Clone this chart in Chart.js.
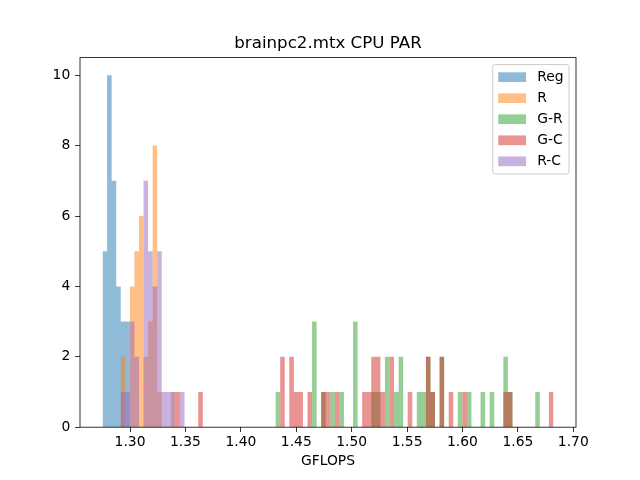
<!DOCTYPE html>
<html>
<head>
<meta charset="utf-8">
<script src="https://cdn.jsdelivr.net/npm/chart.js@4.4.0/dist/chart.umd.min.js"></script>
<style>
  html, body { margin: 0; padding: 0; background: #fff; }
  #wrap { width: 640px; height: 480px; position: relative; }
</style>
</head>
<body>
<div id="wrap"><canvas id="hist"></canvas></div>
<script>
// shared histogram bins (GFLOPS)
const binStart = 1.2752;
const binWidth = 0.00411;
const binCount = 99;

const seriesNames = ['Reg', 'R', 'G-R', 'G-C', 'R-C'];

// non-empty bins (index) and their counts
const regBins   = [0, 1, 2, 3, 4, 5];
const regCounts = [5, 10, 7, 4, 3, 3];

const rBins   = [4, 6, 7, 8, 9, 10, 11, 12, 15];
const rCounts = [2, 4, 5, 6, 2, 3, 8, 1, 1];

const grBins   = [38, 46, 48, 50, 52, 55, 59, 60, 62, 64, 65, 69, 70, 71, 72, 74, 78, 80, 83, 85, 88, 89, 95];
const grCounts = [1, 3, 1, 1, 1, 3, 1, 1, 2, 1, 2, 1, 1, 2, 1, 2, 1, 1, 1, 1, 2, 1, 1];

const gcBins   = [16, 21, 39, 41, 42, 43, 45, 48, 49, 51, 57, 58, 59, 60, 61, 63, 67, 71, 72, 74, 76, 79, 88, 89, 98];
const gcCounts = [1, 1, 2, 2, 1, 1, 1, 1, 1, 1, 1, 1, 2, 2, 1, 2, 1, 2, 1, 2, 1, 1, 1, 1, 1];

const rcBins   = [4, 5, 6, 7, 9, 10, 11, 12, 13, 14, 15, 17];
const rcCounts = [1, 1, 3, 2, 7, 5, 4, 5, 1, 1, 1, 1];

const xTicks = [1.30, 1.35, 1.40, 1.45, 1.50, 1.55, 1.60, 1.65, 1.70];
const yTicks = [0, 2, 4, 6, 8, 10];

const colors = [
  'rgba(31,119,180,0.5)',
  'rgba(255,127,14,0.5)',
  'rgba(44,160,44,0.5)',
  'rgba(214,39,40,0.5)',
  'rgba(148,103,189,0.5)',
];

const FONT = 'DejaVu Sans';
const FS = 13.89;

// one step point per bin left edge, closed at the last right edge
function stepData(bins, counts) {
  const pts = [];
  for (let k = 0; k < binCount; k++) {
    const i = bins.indexOf(k);
    pts.push({ x: binStart + k * binWidth, y: i < 0 ? 0 : counts[i] });
  }
  pts.push({ x: binStart + binCount * binWidth, y: 0 });
  return pts;
}

const allSeries = [
  [regBins, regCounts],
  [rBins, rCounts],
  [grBins, grCounts],
  [gcBins, gcCounts],
  [rcBins, rcCounts],
];

const span = binCount * binWidth;

const frame = {
  id: 'frame',
  afterDatasetsDraw(chart) {
    const { ctx, chartArea: a } = chart;
    ctx.save();
    ctx.strokeStyle = '#000';
    ctx.lineWidth = 0.8;
    ctx.strokeRect(a.left, a.top, a.right - a.left, a.bottom - a.top);
    ctx.restore();
  },
  afterDraw(chart) {
    // matplotlib-like legend, upper right
    const { ctx, chartArea: a } = chart;
    const ds = chart.data.datasets;
    ctx.save();
    ctx.font = `${FS}px "${FONT}"`;
    const textW = Math.max(...ds.map(d => ctx.measureText(d.label).width));
    const pad = 0.4 * FS, hl = 2 * FS, htp = 0.8 * FS, rowH = 14.1, gap = 0.5 * FS;
    const w = pad * 2 + hl + htp + textW;
    const h = pad * 2 + ds.length * rowH + (ds.length - 1) * gap;
    const right = a.right - 0.5 * FS, top = a.top + 0.5 * FS, left = right - w;
    ctx.beginPath();
    ctx.roundRect(left, top, w, h, 0.2 * FS);
    ctx.fillStyle = 'rgba(255,255,255,0.8)';
    ctx.fill();
    ctx.strokeStyle = '#cccccc';
    ctx.lineWidth = 1;
    ctx.stroke();
    ds.forEach((d, i) => {
      const cy = top + pad + i * (rowH + gap) + rowH / 2;
      ctx.fillStyle = d.backgroundColor;
      ctx.fillRect(left + pad, cy - 0.35 * FS, hl, 0.7 * FS);
      ctx.fillStyle = '#000';
      ctx.textBaseline = 'middle';
      ctx.textAlign = 'left';
      ctx.fillText(d.label, left + pad + hl + htp, cy);
    });
    ctx.restore();
  },
};

new Chart(document.getElementById('hist'), {
  type: 'line',
  data: {
    datasets: allSeries.map(([b, c], i) => ({
      label: seriesNames[i],
      data: stepData(b, c),
      stepped: true,
      fill: 'origin',
      backgroundColor: colors[i],
      borderWidth: 0,
      pointRadius: 0,
      order: allSeries.length - i,
    })),
  },
  options: {
    responsive: true,
    maintainAspectRatio: false,
    devicePixelRatio: 1,
    animation: false,
    layout: { padding: { left: 0, right: 64, top: 0, bottom: 0 } },
    plugins: {
      legend: { display: false },
      tooltip: { enabled: false },
      title: {
        display: true,
        text: 'brainpc2.mtx CPU PAR',
        fullSize: false,
        color: '#000',
        font: { family: FONT, size: 16.67, weight: 'normal', lineHeight: 1.2 },
        padding: { top: 33.5, bottom: 4.1 },
      },
    },
    scales: {
      x: {
        type: 'linear',
        min: binStart - 0.05 * span,
        max: binStart + span + 0.05 * span,
        afterBuildTicks: s => { s.ticks = xTicks.map(v => ({ value: v })); },
        afterFit: s => { s.height = 52.8; },
        ticks: {
          callback: v => v.toFixed(2),
          color: '#000',
          padding: 2,
          maxRotation: 0,
          font: { family: FONT, size: FS },
        },
        grid: { drawOnChartArea: false, drawTicks: true, tickLength: 4.86, tickColor: '#000', tickWidth: 0.8 },
        border: { display: false },
        title: {
          display: true,
          text: 'GFLOPS',
          color: '#000',
          font: { family: FONT, size: FS, lineHeight: 1.2 },
          padding: { top: 0, bottom: 10.7 },
        },
      },
      y: {
        min: 0,
        max: 10.5,
        afterBuildTicks: s => { s.ticks = yTicks.map(v => ({ value: v })); },
        afterFit: s => { s.width = 80; },
        ticks: {
          callback: v => String(v),
          color: '#000',
          padding: 4.86,
          font: { family: FONT, size: FS },
        },
        grid: { drawOnChartArea: false, drawTicks: true, tickLength: 4.86, tickColor: '#000', tickWidth: 0.8 },
        border: { display: false },
      },
    },
  },
  plugins: [frame],
});
</script>
</body>
</html>
